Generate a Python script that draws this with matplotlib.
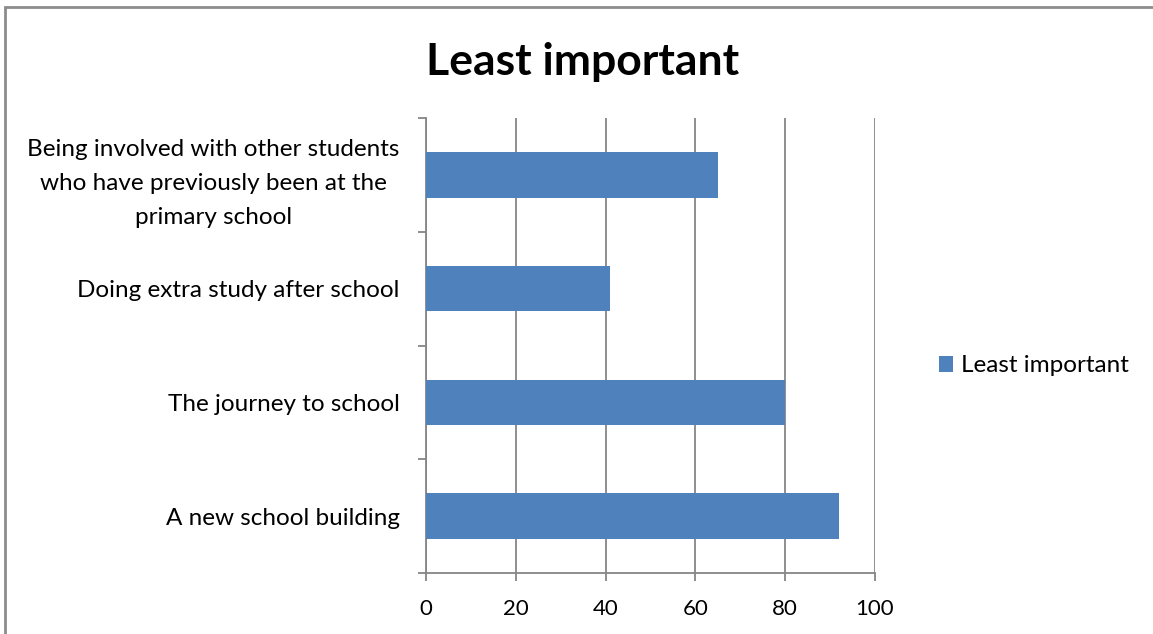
import matplotlib.pyplot as plt
from matplotlib.patches import Rectangle

plt.rcParams['font.family'] = ['Lato', 'DejaVu Sans']

categories = ["A new school building",
              "The journey to school",
              "Doing extra study after school",
              "Being involved with other students\nwho have previously been at the\nprimary school"]
values = [92, 80, 41, 65]
xticks = [0, 20, 40, 60, 80, 100]
series_name = "Least important"
bar_color = "#4F81BD"
grid_color = "#868686"

fig = plt.figure(figsize=(11.53, 6.34), dpi=100)
ax = fig.add_axes([426 / 1153, 1 - 573 / 634, (875 - 426) / 1153, (573 - 118) / 634])

pos = list(range(len(categories)))
ax.barh(pos, values, height=0.4, color=bar_color, label=series_name, zorder=3)

ax.set_xlim(0, 100)
ax.set_ylim(-0.5, len(categories) - 0.5)
ax.set_xticks(xticks)
ax.set_xticklabels([str(t) for t in xticks], fontsize=16)
ax.set_yticks(pos)
ax.set_yticklabels(categories, fontsize=17.5, multialignment='center', linespacing=1.75)
ax.tick_params(axis='y', length=0, pad=19)
ax.tick_params(axis='x', length=5.5, color=grid_color, width=1.3, pad=13)

# category boundary ticks on the left axis
ax.set_yticks([p - 0.5 for p in range(len(categories) + 1)], minor=True)
ax.tick_params(axis='y', which='minor', length=6, color=grid_color, width=1.3)

ax.grid(axis='x', color=grid_color, linewidth=1.3, zorder=0)
for s in ['top', 'right']:
    ax.spines[s].set_visible(False)
for s in ['left', 'bottom']:
    ax.spines[s].set_color(grid_color)
    ax.spines[s].set_linewidth(1.3)

fig.text(583 / 1153, 1 - 62 / 634, "Least important", fontsize=32, fontweight='bold',
         ha='center', va='center')

leg = fig.legend(loc='center left', bbox_to_anchor=(917 / 1153, 1 - 366 / 634),
                 frameon=False, fontsize=17.5, handlelength=0.6, handleheight=0.6,
                 handletextpad=0.3)

# outer chart frame
fig.patches.append(Rectangle((5 / 1153, -0.01), 1.1, 1 - 7 / 634 + 0.01, transform=fig.transFigure,
                             fill=False, edgecolor='#8c8c8c', linewidth=2))

fig.savefig("out.png", dpi=100)
